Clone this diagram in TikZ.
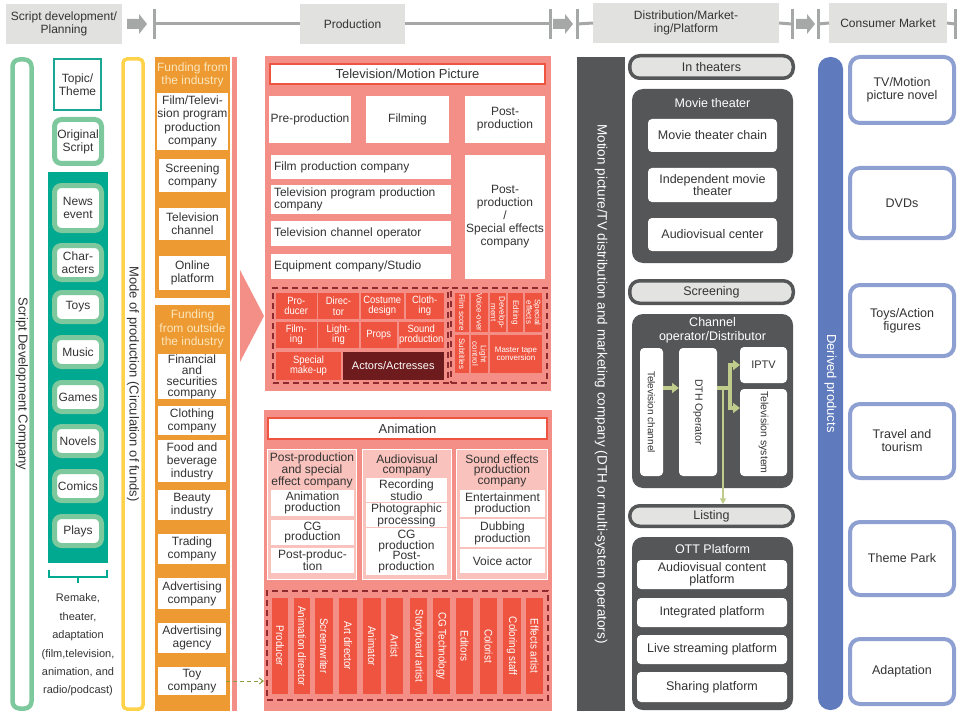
\documentclass[tikz,border=0pt]{standalone}
\usepackage{fontspec}
\setmainfont{Liberation Sans}
\newfontfamily\condf[FakeStretch=0.9]{Liberation Sans}
\usetikzlibrary{arrows.meta}
\definecolor{txt}{HTML}{333333}
\definecolor{hdrg}{HTML}{E1E2E0}
\definecolor{arrg}{HTML}{A6A8A7}
\definecolor{lgrn}{HTML}{7DC89D}
\definecolor{tealA}{HTML}{00A98F}
\definecolor{tealB}{HTML}{1AA895}
\definecolor{yelw}{HTML}{FFD24C}
\definecolor{orng}{HTML}{EC9A31}
\definecolor{orlt}{HTML}{FDE6BE}
\definecolor{salm}{HTML}{F48F87}
\definecolor{redc}{HTML}{EE5440}
\definecolor{maro}{HTML}{6D1B1C}
\definecolor{dred}{HTML}{8E2B2F}
\definecolor{lpnk}{HTML}{F9C2BC}
\definecolor{dgry}{HTML}{555657}
\definecolor{pilg}{HTML}{E3E4E2}
\definecolor{olvA}{HTML}{BFCC8B}
\definecolor{olvB}{HTML}{8D9B3F}
\definecolor{bluA}{HTML}{5F7BBD}
\definecolor{bluB}{HTML}{8E9FD2}
\newcommand\myfs[2]{\fontsize{#1}{#2}\selectfont}
\newcommand\bx[7]{\node[#6, minimum width={(#4-#2)*1pt}, minimum height={(#5-#3)*1pt}] (#1) at ({(#2+#4)/2},{(#3+#5)/2}) {#7};}
\newcommand\vbx[7]{\node[#6, rotate=-90, minimum width={(#5-#3)*1pt}, minimum height={(#4-#2)*1pt}] (#1) at ({(#2+#4)/2},{(#3+#5)/2}) {#7};}
\tikzset{
 base/.style={font=\myfs{12}{13}, text=txt, inner sep=0.5pt, outer sep=0pt, align=center},
 hdr/.style={fill=hdrg},
 wb/.style={fill=white},
 awb/.style={fill=white, font=\myfs{12}{10.8}},
 lb/.style={fill=white, align=left, text width=174pt, inner xsep=3pt},
 grnr/.style={draw=lgrn, line width=5pt, rounded corners=7pt, fill=white},
 orh/.style={text=orlt},
 cell/.style={fill=redc, text=white, font={\condf\myfs{10.5}{10.5}}},
 tcell/.style={fill=redc, text=white, font=\myfs{8}{8.5}},
 stf/.style={fill=redc, text=white, font={\condf\myfs{11}{11}}},
 dsh/.style={draw=dred, line width=1.8pt, dash pattern=on 6pt off 4pt},
 pill/.style={draw=dgry, line width=3.5pt, fill=pilg, rounded corners=10pt, font=\myfs{12.5}{13}},
 dpan/.style={fill=dgry, rounded corners=11pt},
 dtitle/.style={text=white, font=\myfs{12.5}{14}},
 wr/.style={fill=white, rounded corners=4pt, font=\myfs{12.5}{13}},
 prod/.style={draw=bluB, line width=4pt, fill=white, rounded corners=10pt, font=\myfs{12.5}{13}},
 tick/.style={draw=arrg, line width=3pt},
 hline/.style={draw=arrg, line width=3pt},
 oarr/.style={draw=olvA, line width=3.5pt, -{Triangle[length=7pt,width=10pt]}},
}
\begin{document}
\begin{tikzpicture}[x=1pt,y=-1pt, every node/.style={base}]
\useasboundingbox (0,0) rectangle (960,714);
% ---------- header ----------
\bx{h1}{6}{4}{122}{44}{hdr}{Script development/\\Planning}
\bx{h2}{300}{4}{405}{44}{hdr}{Production}
\bx{h3}{593}{3}{779}{43}{hdr}{Distribution/Market-\\ing/Platform}
\bx{h4}{829}{3}{947}{43}{hdr}{Consumer Market}
\coordinate (t1) at (154,24);
\coordinate (t2) at (550,24);
\coordinate (t3) at (577,24);
\coordinate (t4) at (792,24);
\coordinate (t5) at (818,24);
\coordinate (t6) at (955,24);
\foreach \c in {t1,t2,t3,t4,t5,t6} {\draw[tick] ([yshift=15pt]\c) -- ([yshift=-15pt]\c);}
\draw[hline] (t1) -- (h2.west);
\draw[hline] (h2.east) -- (t2);
\draw[hline] (t3) -- (h3.west);
\draw[hline] (h3.east) -- (t4);
\draw[hline] (t5) -- (h4.west);
\draw[hline] (h4.east) -- (t6);
\fill[arrg] (127,19) -- (139,19) -- (139,14) -- (147,24) -- (139,34) -- (139,29) -- (127,29) -- cycle;
\fill[arrg] (553,19) -- (565,19) -- (565,14) -- (573,24) -- (565,34) -- (565,29) -- (553,29) -- cycle;
\fill[arrg] (796,19) -- (807,19) -- (807,14) -- (815,24) -- (807,34) -- (807,29) -- (796,29) -- cycle;
% ---------- script development ----------
\vbx{sdc}{12.5}{59.5}{31.5}{708.5}{draw=lgrn, line width=4.5pt, rounded corners=7pt, font=\myfs{13}{14}}{Script Development Company}
\bx{topic}{54}{59}{101}{110}{draw=tealB, line width=2pt, fill=white}{Topic/\\Theme}
\bx{orig}{54.5}{119.5}{101.5}{163.5}{grnr}{Original\\Script}
\bx{tealp}{48}{172}{108}{563}{fill=tealA}{}
\bx{news}{54.5}{185.5}{101.5}{230.5}{grnr}{News\\event}
\bx{chars}{54.5}{245.5}{101.5}{279.5}{grnr}{Char-\\acters}
\bx{toys}{54.5}{292.5}{101.5}{321.5}{grnr}{Toys}
\bx{music}{54.5}{337.5}{101.5}{366.5}{grnr}{Music}
\bx{games}{54.5}{382.5}{101.5}{411.5}{grnr}{Games}
\bx{novels}{54.5}{426.5}{101.5}{455.5}{grnr}{Novels}
\bx{comics}{54.5}{471.5}{101.5}{500.5}{grnr}{Comics}
\bx{plays}{54.5}{516.5}{101.5}{545.5}{grnr}{Plays}
\draw[tealA, line width=2pt] (49,570) -- (49,577) -- (107,577) -- (107,570);
\draw[tealA, line width=2pt] (78,577) -- (78,583);
\node[font=\myfs{11}{18.4}] (remake) at (78,645) {Remake,\\theater,\\adaptation\\(film,television,\\animation, and\\radio/podcast)};
% ---------- mode of production ----------
\vbx{mode}{123}{59}{143}{709}{draw=yelw, line width=3.5pt, rounded corners=4pt, font=\myfs{13}{14}}{Mode of production (Circulation of funds)}
\bx{orA}{155}{57}{230}{298}{fill=orng}{}
\node[orh] (orAh) at (192.5,75) {Funding from\\the industry};
\bx{filmco}{159}{93}{226}{150}{wb, font=\myfs{12}{13.5}}{Film/Televi-\\sion program\\production\\company}
\bx{screen}{159}{159}{226}{192}{wb}{Screening\\company}
\bx{tvch}{159}{208}{226}{240}{wb}{Television\\channel}
\bx{online}{159}{256}{226}{290}{wb}{Online\\platform}
\bx{orB}{155}{305}{230}{711}{fill=orng}{}
\node[orh, font=\myfs{12}{13.5}] (orBh) at (192.5,329) {Funding\\from outside\\the industry};
\bx{fin}{158}{354}{226}{399}{wb, font=\myfs{12}{11}}{Financial\\and\\securities\\company}
\bx{cloth}{158}{406}{226}{435}{wb}{Clothing\\company}
\bx{food}{158}{440}{226}{482}{wb}{Food and\\beverage\\industry}
\bx{beauty}{158}{490}{226}{520}{wb}{Beauty\\industry}
\bx{trade}{158}{534}{226}{564}{wb}{Trading\\company}
\bx{adco}{158}{578}{226}{609}{wb}{Advertising\\company}
\bx{adag}{158}{623}{226}{653}{wb}{Advertising\\agency}
\bx{toyco}{158}{667}{226}{695}{wb}{Toy\\company}
\fill[salm] (232,57) rectangle (237,711);
\fill[salm] (240,270) -- (264,316) -- (240,362) -- cycle;
% ---------- television / motion picture ----------
\bx{tvp}{265}{56}{551}{391}{fill=salm}{}
\bx{tvt}{270}{64}{545}{84}{draw=redc, line width=2pt, fill=white, font=\myfs{13}{14}}{Television/Motion Picture}
\bx{pre}{269}{96}{351}{143}{wb}{Pre-production}
\bx{filming}{366}{96}{449}{143}{wb}{Filming}
\bx{post}{465}{96}{545}{143}{wb}{Post-\\production}
\bx{fpc}{271}{155}{451}{179}{lb}{Film production company}
\bx{tppc}{271}{185}{451}{214}{lb, font=\myfs{12}{12}}{Television program production\\company}
\bx{tco}{271}{221}{451}{246}{lb}{Television channel operator}
\bx{equip}{271}{254}{451}{279}{lb}{Equipment company/Studio}
\bx{psfx}{465}{155}{545}{279}{wb}{Post-\\production\\/\\Special effects\\company}
\bx{dL}{273}{288}{448}{383}{dsh}{}
\bx{dR}{451}{288}{547}{383}{dsh}{}
\bx{c1}{276}{293}{316.5}{319}{cell}{Pro-\\ducer}
\bx{c2}{318}{293}{359}{319}{cell}{Direc-\\tor}
\bx{c3}{360.5}{293}{404}{319}{cell}{Costume\\design}
\bx{c4}{405.5}{293}{444}{319}{cell}{Cloth-\\ing}
\bx{c5}{276}{321.5}{316.5}{348}{cell}{Film-\\ing}
\bx{c6}{318}{321.5}{359}{348}{cell}{Light-\\ing}
\bx{c7}{360.5}{321.5}{397}{348}{cell}{Props}
\bx{c8}{398.5}{321.5}{444}{348}{cell}{Sound\\production}
\bx{c9}{276}{351.5}{341}{380}{cell}{Special\\make-up}
\bx{c10}{342.5}{351.5}{444}{380}{cell, fill=maro, font=\myfs{11}{12}}{Actors/Actresses}
\vbx{r1}{455}{293}{469}{332}{tcell}{Film score}
\vbx{r2}{471}{293}{488}{332}{tcell}{Voice-over}
\vbx{r3}{490}{293}{506}{332}{tcell}{Develop-\\ment}
\vbx{r4}{507.5}{293}{523}{332}{tcell}{Editing}
\vbx{r5}{525}{293}{542}{332}{tcell}{Special\\effects}
\vbx{r6}{455}{335}{469}{373}{tcell}{Subtitles}
\vbx{r7}{471}{335}{488}{373}{tcell}{Light\\control}
\bx{r8}{490}{335}{542}{373}{tcell}{Master tape\\conversion}
% ---------- animation ----------
\bx{anp}{264}{410}{552}{711}{fill=salm}{}
\bx{ant}{268}{418}{547}{439}{draw=redc, line width=2pt, fill=white, font=\myfs{13}{14}}{Animation}
\bx{sp1}{267.5}{449.5}{356.5}{579.5}{draw=white, line width=1.5pt, fill=lpnk}{}
\bx{sp2}{362.5}{449.5}{451.5}{579.5}{draw=white, line width=1.5pt, fill=lpnk}{}
\bx{sp3}{456.5}{449.5}{547.5}{579.5}{draw=white, line width=1.5pt, fill=lpnk}{}
\node[font=\myfs{12}{10.5}] (sp1h) at (312,470.5) {Post-production\\and special\\effect company};
\node[font=\myfs{12}{10.5}] (sp2h) at (407,465.5) {Audiovisual\\company};
\node[font=\myfs{12}{10.5}] (sp3h) at (502,470.5) {Sound effects\\production\\company};
\bx{a1}{271}{490}{354}{516}{awb}{Animation\\production}
\bx{a2}{271}{520}{354}{545}{awb}{CG\\production}
\bx{a3}{271}{548}{354}{573}{awb}{Post-produc-\\tion}
\bx{b1}{366}{478}{447}{502}{awb}{Recording\\studio}
\bx{b2}{366}{504}{447}{526}{awb}{Photographic\\processing}
\bx{b3}{366}{528}{447}{575}{awb}{CG\\production\\Post-\\production}
\bx{d1}{460}{490}{545}{517}{awb}{Entertainment\\production}
\bx{d2}{460}{519}{545}{547}{awb}{Dubbing\\production}
\bx{d3}{460}{549}{545}{573}{awb}{Voice actor}
\bx{dA}{267}{591}{548}{700}{dsh}{}
\foreach \a/\b/\t [count=\i] in {272/288/Producer, 294/310/Animation director, 315/333/Screenwriter, 339/357/Art director, 363/381/Animator, 386/403/Artist, 410/427/Storyboard artist, 433/450/CG Technology, 456/473/Editors, 480/497/Colorist, 503/521/Coloring staff, 526/543/Effects artist}
 {\vbx{s\i}{\a}{598}{\b}{694}{stf}{\t}}
\draw[olvB, line width=1pt, dash pattern=on 4pt off 3pt, -{Straight Barb[length=4pt,width=6pt]}] (toyco.east) -- (toyco.east -| anp.west);
% ---------- distribution ----------
\vbx{distc}{577}{57}{625}{711}{fill=dgry, text=white, font=\myfs{13.5}{15}}{Motion picture/TV distribution and marketing company (DTH or multi-system operators)}
\bx{inth}{629.75}{55.75}{793.25}{78.25}{pill}{In theaters}
\bx{mth}{632}{89}{793}{263}{dpan}{}
\node[dtitle] (mtht) at (712.5,103) {Movie theater};
\bx{mtc}{648}{119}{777}{152}{wr}{Movie theater chain}
\bx{imt}{648}{168}{777}{202}{wr, font=\myfs{12.5}{12}}{Independent movie\\theater}
\bx{avc}{648}{218}{777}{251}{wr}{Audiovisual center}
\bx{scr}{629.75}{280.75}{793.25}{303.25}{pill}{Screening}
\bx{cop}{632}{314}{793}{488}{dpan}{}
\node[dtitle] (copt) at (712.5,330) {Channel\\operator/Distributor};
\vbx{tvc}{640}{348}{663}{476}{wr, font=\myfs{10}{11}}{Television channel}
\vbx{dth}{679}{348}{717}{476}{wr, font=\myfs{10.5}{11}}{DTH Operator}
\bx{iptv}{740}{347}{787}{383}{wr, font=\myfs{11}{12}}{IPTV}
\vbx{tvs}{740}{389}{787}{476}{wr, font=\myfs{10.5}{12}}{Television system}
\bx{lst}{629.75}{505.75}{793.25}{526.25}{pill}{Listing}
\draw[oarr] (tvc.north |- 0,388) -- (dth.south |- 0,388);
\draw[olvA, line width=3.5pt] (dth.north |- 0,388) -- ++(13,0) coordinate (jn);
\draw[oarr] (jn) |- (iptv.west);
\draw[oarr] (jn) |- (tvs.south |- 0,408);
\draw[olvA, line width=1.5pt, -{Triangle[length=6pt,width=6pt]}, shorten >=1.5pt] (723,388) -- (lst.north -| 723,0);
\bx{ott}{632}{537}{793}{710}{dpan}{}
\node[dtitle] (ottt) at (712.5,549) {OTT Platform};
\bx{o1}{637}{560}{787}{589}{wr, font=\myfs{12.5}{12}}{Audiovisual content\\platform}
\bx{o2}{637}{598}{787}{627}{wr}{Integrated platform}
\bx{o3}{637}{635}{787}{664}{wr}{Live streaming platform}
\bx{o4}{637}{672}{787}{702}{wr}{Sharing platform}
% ---------- consumer market ----------
\vbx{der}{818}{57}{843}{710}{fill=bluA, rounded corners=12pt, text=white, font=\myfs{13}{14}}{Derived products}
\bx{p1}{850}{57}{954}{123}{prod}{TV/Motion\\picture novel}
\bx{p2}{850}{168}{954}{238}{prod}{DVDs}
\bx{p3}{850}{285}{954}{356}{prod}{Toys/Action\\figures}
\bx{p4}{850}{404}{954}{478}{prod}{Travel and\\tourism}
\bx{p5}{850}{522}{954}{595}{prod}{Theme Park}
\bx{p6}{850}{639}{954}{704}{prod}{Adaptation}
\end{tikzpicture}
\end{document}
